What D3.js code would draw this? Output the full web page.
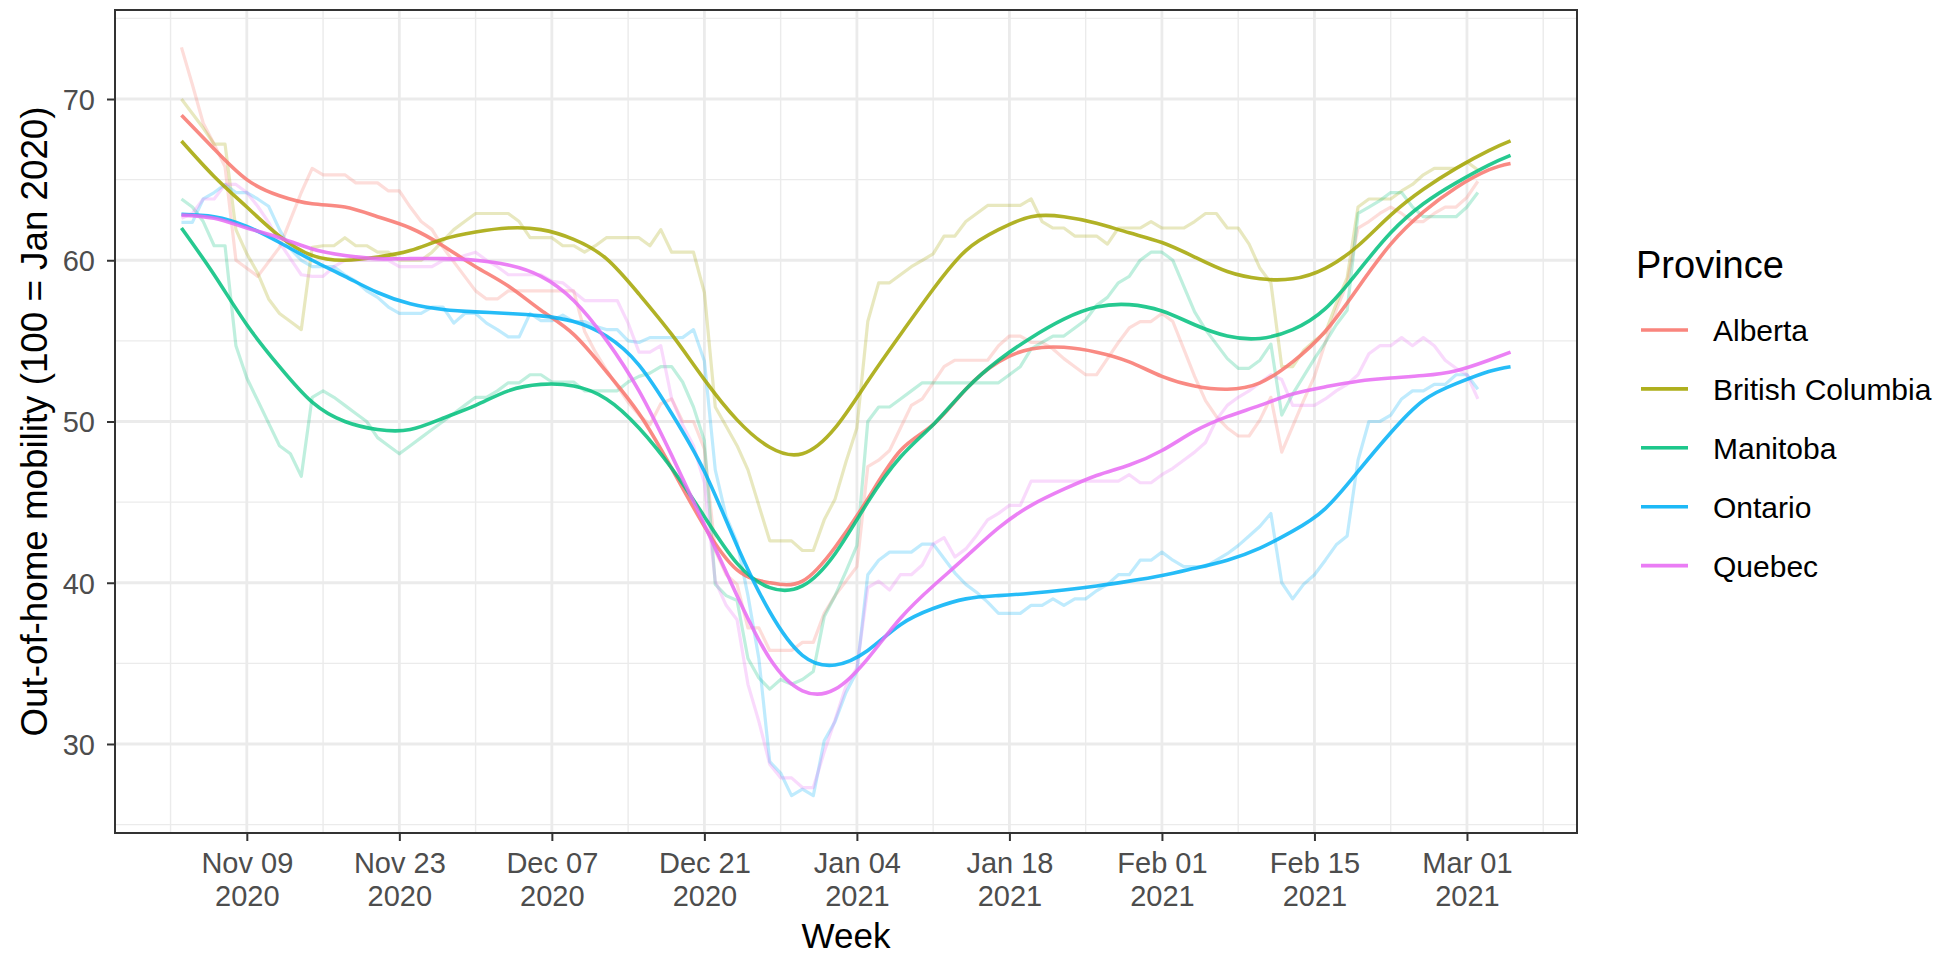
<!DOCTYPE html>
<html><head><meta charset="utf-8">
<script src="https://cdn.jsdelivr.net/npm/d3@7"></script>
<style>body{margin:0;background:#fff} svg{display:block}</style>
</head><body><svg id="chart" width="1947" height="957"></svg>
<script>
const provinces = ["Alberta","British Columbia","Manitoba","Ontario","Quebec"];
const colors = ["#F8766D","#A3A500","#00BF7D","#00B0F6","#E76BF3"];
const firstDay = "2020-11-03";

const albertaRaw = [73.2,70.9,68.5,67.2,65.8,60.0,59.5,59.0,59.9,60.8,
62.5,64.2,65.7,65.3,65.3,65.3,64.8,64.8,64.8,64.3,
64.3,63.3,62.4,61.9,60.8,59.9,59.0,58.1,57.6,57.6,
58.1,58.1,58.1,58.1,58.1,58.1,58.1,55.6,54.3,53.2,
52.2,51.2,50.4,49.8,51.1,51.4,50.0,50.0,48.3,42.0,
40.5,39.9,37.2,37.2,35.8,35.8,35.8,36.3,36.3,38.1,
39.2,40.1,41.0,47.2,47.6,48.2,49.6,51.0,51.4,52.4,
53.4,53.8,53.8,53.8,53.8,54.7,55.3,55.3,54.9,54.9,
54.5,53.9,53.4,52.9,52.9,53.9,54.9,55.8,56.2,56.2,
56.7,56.2,54.5,52.8,51.3,50.3,49.6,49.1,49.1,50.1,
51.5,48.1,49.7,51.3,52.8,54.9,56.9,58.6,62.0,62.4,
62.9,63.3,62.9,62.4,62.4,62.9,63.3,63.3,63.9,64.9];

const bcRaw = [70.0,69.1,68.2,67.2,67.2,61.9,60.4,59.2,57.6,56.7,
56.2,55.7,60.8,60.9,60.9,61.4,60.9,60.9,60.5,60.5,
60.0,60.0,60.0,60.5,61.2,61.9,62.4,62.9,62.9,62.9,
62.9,62.4,61.4,61.4,61.4,60.9,60.9,60.5,60.9,61.4,
61.4,61.4,61.4,60.9,61.9,60.5,60.5,60.5,58.0,50.9,
49.7,48.5,47.0,44.8,42.6,42.6,42.6,42.0,42.0,43.9,
45.2,47.5,49.6,56.2,58.6,58.6,59.1,59.6,60.0,60.4,
61.5,61.5,62.4,62.9,63.4,63.4,63.4,63.4,63.8,62.4,
62.0,62.0,61.5,61.5,61.5,61.0,62.0,62.0,62.0,62.4,
62.0,62.0,62.0,62.4,62.9,62.9,62.0,62.0,61.0,59.5,
58.6,53.4,53.4,54.4,55.0,55.5,57.3,58.9,63.3,63.8,
63.8,63.8,64.3,64.7,65.3,65.7,65.7,65.7,66.1,65.6];

const manitobaRaw = [63.8,63.3,62.4,60.9,60.9,54.7,52.7,51.3,49.9,48.5,
48.0,46.6,51.5,51.9,51.5,51.0,50.5,50.0,49.0,48.5,
48.0,48.5,49.0,49.5,50.0,50.5,51.0,51.5,51.5,51.9,
52.4,52.4,52.9,52.9,52.45,52.45,52.45,51.9,51.9,51.9,
51.9,52.45,52.8,53.0,53.4,53.4,52.45,50.9,48.8,39.9,
39.2,38.9,35.3,34.1,33.4,34.0,33.7,34.0,34.5,37.9,
39.2,40.7,42.3,50.0,50.9,50.9,51.4,51.9,52.4,52.4,
52.4,52.4,52.4,52.4,52.4,52.4,52.9,53.4,54.5,54.9,
55.3,55.3,55.8,56.3,57.2,57.7,58.6,59.0,60.0,60.5,
60.5,60.0,58.4,56.8,55.7,54.8,53.9,53.3,53.3,53.8,
54.8,50.4,51.7,52.8,53.9,54.9,56.0,56.9,62.9,63.3,
63.7,64.2,64.2,63.3,62.7,62.7,62.7,62.7,63.3,64.2];

const ontarioRaw = [62.35,62.35,63.8,64.2,64.7,64.2,64.2,63.8,63.35,61.9,
60.7,60.0,59.6,59.6,59.6,59.1,58.7,58.1,57.7,57.1,
56.7,56.7,56.7,57.1,57.1,56.1,56.7,56.7,56.1,55.7,
55.25,55.25,56.7,56.25,56.25,56.6,56.2,56.2,55.9,55.7,
55.7,55.0,54.9,55.2,55.2,55.2,55.2,55.7,53.75,47.0,
44.1,42.5,39.2,35.3,28.9,28.2,26.8,27.2,26.8,30.2,
31.4,33.2,34.5,40.5,41.4,41.9,41.9,41.9,42.4,42.4,
41.5,40.6,39.9,39.4,38.8,38.1,38.1,38.1,38.6,38.6,
39.0,38.6,39.0,39.0,39.5,39.9,40.5,40.5,41.4,41.4,
41.9,41.4,41.0,41.0,41.0,41.4,41.8,42.3,42.9,43.5,
44.3,40.0,39.0,39.9,40.5,41.4,42.35,42.9,47.6,50.0,
50.0,50.4,51.4,51.9,51.9,52.3,52.3,52.9,52.9,52.0];

const quebecRaw = [62.6,62.9,63.8,63.8,64.7,64.7,64.2,63.35,62.35,61.1,
60.1,59.1,59.0,59.0,59.6,60.0,60.0,60.0,60.0,60.0,
59.6,59.6,59.6,59.6,60.0,60.0,60.3,60.5,60.0,59.6,
59.1,59.1,59.1,59.1,58.7,58.6,58.05,57.5,57.5,57.5,
57.5,56.1,54.3,54.3,54.7,51.4,49.8,48.5,46.2,40.1,
38.6,37.7,33.7,31.4,28.75,27.9,27.9,27.3,27.3,29.5,
31.5,33.6,34.7,39.7,40.1,39.55,40.5,40.5,41.1,42.4,
42.8,41.6,42.1,42.95,43.9,44.3,44.8,44.8,46.3,46.3,
46.3,46.3,46.3,46.3,46.3,46.3,46.3,46.7,46.2,46.2,
46.7,47.1,47.6,48.1,48.7,50.1,51.0,51.5,51.9,52.4,
52.9,52.6,51.0,51.0,51.0,51.4,51.9,52.3,52.9,54.2,
54.7,54.7,55.2,54.7,55.2,54.7,53.8,53.3,52.9,51.4];

const smoothDays = [0,3,6,9,12,15,18,21,24,27,30,33,36,39,42,45,48,51,54,57,60,63,66,69,72,75,78,81,84,87,90,93,96,99,102,105,108,111,114,117,120,122];

const albertaSmooth = [69.0,66.9,65.0,64.0,63.5,63.3,62.7,62.0,60.9,59.6,
58.4,56.9,55.4,53.1,50.5,47.1,43.5,40.8,40.0,40.1,
42.2,45.2,48.2,49.8,52.0,53.7,54.5,54.6,54.3,53.7,
52.8,52.2,52.0,52.4,53.7,55.6,58.3,61.0,63.0,64.5,
65.6,66.0];
const bcSmooth = [67.4,65.2,63.3,61.5,60.3,60.0,60.2,60.6,61.3,61.75,
62.0,61.9,61.3,60.1,57.9,55.4,52.6,50.1,48.4,48.0,
49.6,52.5,55.4,58.2,60.6,61.9,62.7,62.7,62.3,61.7,
61.1,60.2,59.3,58.85,58.85,59.5,60.9,62.8,64.4,65.7,
66.8,67.4];
const manitobaSmooth = [62.0,59.1,56.0,53.4,51.2,50.0,49.5,49.5,50.2,51.0,
51.9,52.3,52.2,51.4,49.6,47.1,44.1,41.2,39.7,39.8,
41.8,45.0,47.8,49.8,52.0,53.8,55.2,56.35,57.1,57.25,
56.85,56.0,55.3,55.15,55.7,57.0,59.3,61.7,63.5,64.8,
65.9,66.5];
const ontarioSmooth = [62.85,62.7,62.1,61.1,60.0,59.0,58.0,57.3,56.95,56.8,
56.7,56.55,56.2,55.3,53.5,50.5,46.9,42.3,38.2,35.5,
34.9,35.8,37.4,38.4,39.0,39.2,39.35,39.55,39.8,40.1,
40.45,40.9,41.4,42.15,43.2,44.6,46.9,49.3,51.3,52.35,
53.1,53.4];
const quebecSmooth = [62.8,62.6,62.0,61.4,60.7,60.3,60.1,60.1,60.1,60.0,
59.7,59.0,57.5,55.05,51.9,47.9,43.6,39.2,35.3,33.3,
33.4,35.3,37.8,39.8,41.6,43.4,44.8,45.8,46.65,47.3,
48.2,49.4,50.3,51.0,51.7,52.15,52.5,52.7,52.85,53.15,
53.8,54.3];

const xTickDates = ["2020-11-09","2020-11-23","2020-12-07","2020-12-21","2021-01-04","2021-01-18","2021-02-01","2021-02-15","2021-03-01"];
const xTickLabels = [["Nov 09","2020"],["Nov 23","2020"],["Dec 07","2020"],["Dec 21","2020"],["Jan 04","2021"],["Jan 18","2021"],["Feb 01","2021"],["Feb 15","2021"],["Mar 01","2021"]];
const xMinorDates = ["2020-11-02","2020-11-16","2020-11-30","2020-12-14","2020-12-28","2021-01-11","2021-01-25","2021-02-08","2021-02-22","2021-03-08"];
const yTicks = [30,40,50,60,70];
const yMinor = [25,35,45,55,65,75];

const xTitle = "Week";
const yTitle = "Out-of-home mobility (100 = Jan 2020)";
const legendTitle = "Province";

const rawSeries = [albertaRaw, bcRaw, manitobaRaw, ontarioRaw, quebecRaw];
const smoothSeries = [albertaSmooth, bcSmooth, manitobaSmooth, ontarioSmooth, quebecSmooth];

// ---------- drawing ----------
const FONT = "'Liberation Sans', Arial, Helvetica, sans-serif";
const svg = d3.select("#chart");
const P = {left:115, right:1577, top:10, bottom:833};
const parse = d3.utcParse("%Y-%m-%d");
const d0 = parse(firstDay);
const dayDate = i => d3.utcDay.offset(d0, i);

const lastDate = dayDate(d3.max(smoothDays));
const span = lastDate - d0;
const x = d3.scaleUtc()
  .domain([new Date(+d0 - 0.05*span), new Date(+lastDate + 0.05*span)])
  .range([P.left, P.right]);

const allVals = rawSeries.flat().concat(smoothSeries.flat());
const [vmin, vmax] = d3.extent(allVals);
const vs = vmax - vmin;
const y = d3.scaleLinear().domain([vmin - 0.05*vs, vmax + 0.05*vs]).range([P.bottom, P.top]);

// panel background
svg.append("rect").attr("x",P.left).attr("y",P.top).attr("width",P.right-P.left).attr("height",P.bottom-P.top).attr("fill","#fff");

// grid
const grid = svg.append("g");
grid.selectAll(".xminor").data(xMinorDates.map(parse)).join("line")
  .attr("x1",d=>x(d)).attr("x2",d=>x(d)).attr("y1",P.top).attr("y2",P.bottom)
  .attr("stroke","#EBEBEB").attr("stroke-width",1.4);
grid.selectAll(".yminor").data(yMinor).join("line")
  .attr("y1",d=>y(d)).attr("y2",d=>y(d)).attr("x1",P.left).attr("x2",P.right)
  .attr("stroke","#EBEBEB").attr("stroke-width",1.4);
grid.selectAll(".xmajor").data(xTickDates.map(parse)).join("line")
  .attr("x1",d=>x(d)).attr("x2",d=>x(d)).attr("y1",P.top).attr("y2",P.bottom)
  .attr("stroke","#EBEBEB").attr("stroke-width",2.8);
grid.selectAll(".ymajor").data(yTicks).join("line")
  .attr("y1",d=>y(d)).attr("y2",d=>y(d)).attr("x1",P.left).attr("x2",P.right)
  .attr("stroke","#EBEBEB").attr("stroke-width",2.8);

// raw lines
const rawLine = d3.line().x((d,i)=>x(dayDate(i))).y(d=>y(d));
svg.append("g").selectAll("path").data(rawSeries).join("path")
  .attr("d", rawLine).attr("fill","none")
  .attr("stroke",(d,i)=>colors[i]).attr("stroke-opacity",0.25)
  .attr("stroke-width",3.2).attr("stroke-linejoin","round");

// smooth lines
const smLine = d3.line().curve(d3.curveNatural).x((d,i)=>x(dayDate(smoothDays[i]))).y(d=>y(d));
svg.append("g").selectAll("path").data(smoothSeries).join("path")
  .attr("d", smLine).attr("fill","none")
  .attr("stroke",(d,i)=>colors[i]).attr("stroke-opacity",0.85)
  .attr("stroke-width",3.6);

// panel border
svg.append("rect").attr("x",P.left).attr("y",P.top).attr("width",P.right-P.left).attr("height",P.bottom-P.top)
  .attr("fill","none").attr("stroke","#333333").attr("stroke-width",2);

// x axis
const gx = svg.append("g").attr("transform",`translate(0,${P.bottom})`)
  .call(d3.axisBottom(x).tickValues(xTickDates.map(parse)).tickSize(8).tickFormat((d,i)=>xTickLabels[i][0]));
gx.select(".domain").remove();
gx.attr("font-family",FONT).attr("font-size",29);
gx.selectAll(".tick line").attr("stroke","#333333").attr("stroke-width",2);
gx.selectAll(".tick text").each(function(d,i){
  const t = d3.select(this);
  t.text(null).attr("y",null).attr("dy",null).attr("fill","#4D4D4D");
  t.append("tspan").attr("x",0).attr("y",39.7).text(xTickLabels[i][0]);
  t.append("tspan").attr("x",0).attr("y",73).text(xTickLabels[i][1]);
});

// y axis
const gy = svg.append("g").attr("transform",`translate(${P.left},0)`)
  .call(d3.axisLeft(y).tickValues(yTicks).tickSize(8).tickPadding(12));
gy.select(".domain").remove();
gy.attr("font-family",FONT).attr("font-size",29);
gy.selectAll(".tick line").attr("stroke","#333333").attr("stroke-width",2);
gy.selectAll(".tick text").attr("fill","#4D4D4D").attr("dy","0.36em");

// axis titles
svg.append("text").attr("x",(P.left+P.right)/2).attr("y",948).attr("text-anchor","middle")
  .attr("font-family",FONT).attr("font-size",35).attr("fill","#000").text(xTitle);
svg.append("text").attr("transform",`translate(47,${(P.top+P.bottom)/2}) rotate(-90)`).attr("text-anchor","middle")
  .attr("font-family",FONT).attr("font-size",36).attr("fill","#000")
  .attr("textLength",630).attr("lengthAdjust","spacingAndGlyphs").text(yTitle);

// legend
const lg = svg.append("g");
lg.append("text").attr("x",1636).attr("y",278.3).attr("font-family",FONT).attr("font-size",38).attr("fill","#000").text(legendTitle);
const items = lg.selectAll(".item").data(provinces).join("g")
  .attr("transform",(d,i)=>`translate(0,${341 + i*58.9})`);
items.append("line").attr("x1",1641).attr("x2",1688).attr("y1",-11).attr("y2",-11)
  .attr("stroke",(d,i)=>colors[i]).attr("stroke-opacity",0.25).attr("stroke-width",3.2);
items.append("line").attr("x1",1641).attr("x2",1688).attr("y1",-11).attr("y2",-11)
  .attr("stroke",(d,i)=>colors[i]).attr("stroke-opacity",0.85).attr("stroke-width",3.6);
items.append("text").attr("x",1713).attr("y",0).attr("font-family",FONT).attr("font-size",30).attr("fill","#000").text(d=>d);
</script>
</body></html>
